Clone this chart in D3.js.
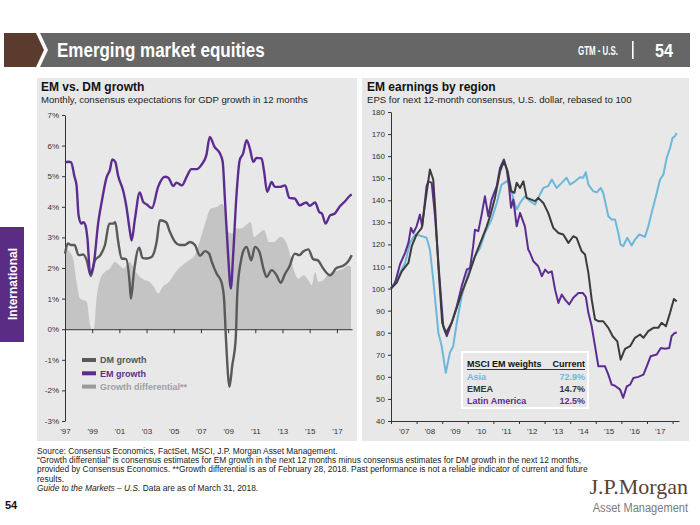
<!DOCTYPE html>
<html><head><meta charset="utf-8">
<script src="https://cdn.jsdelivr.net/npm/d3@7"></script>
<style>body{margin:0;background:#fff;} svg{display:block;font-family:Arial,"Liberation Sans",sans-serif;}</style>
</head><body><svg id="c" width="700" height="525"></svg>
<script>
// ---------- DATA ----------
const leftYTicks = [-3,-2,-1,0,1,2,3,4,5,6,7];
const leftXYears = [1997,1999,2001,2003,2005,2007,2009,2011,2013,2015,2017];
const leftXLabels = ["'97","'99","'01","'03","'05","'07","'09","'11","'13","'15","'17"];
const rightYTicks = [40,50,60,70,80,90,100,110,120,130,140,150,160,170,180];
const rightXYears = [2007,2008,2009,2010,2011,2012,2013,2014,2015,2016,2017];
const rightXLabels = ["'07","'08","'09","'10","'11","'12","'13","'14","'15","'16","'17"];

const emGrowth = [[1997.0,5.45],[1997.25,5.47],[1997.45,5.45],[1997.7,4.98],[1997.85,4.7],[1998.0,3.72],[1998.2,3.45],[1998.35,3.5],[1998.5,3.4],[1998.65,2.97],[1998.85,1.82],[1999.1,2.09],[1999.45,3.5],[1999.7,4.16],[2000.07,4.98],[2000.3,5.2],[2000.48,5.55],[2000.7,5.47],[2000.9,5.03],[2001.3,4.49],[2001.5,4.05],[2001.8,3.13],[2001.9,2.9],[2002.15,3.62],[2002.5,4.47],[2002.75,4.16],[2003.0,4.08],[2003.4,3.96],[2003.85,4.65],[2004.35,4.98],[2004.6,4.95],[2004.96,4.68],[2005.2,4.79],[2005.6,4.7],[2005.95,4.98],[2006.3,5.23],[2006.7,5.23],[2007.05,5.38],[2007.4,5.69],[2007.65,6.28],[2008.0,5.96],[2008.4,5.74],[2008.6,5.47],[2008.76,4.28],[2009.0,2.42],[2009.2,1.33],[2009.37,2.42],[2009.6,4.27],[2009.85,5.52],[2010.1,5.74],[2010.36,6.18],[2010.6,5.9],[2010.85,5.47],[2011.1,5.6],[2011.46,5.58],[2011.65,5.14],[2011.87,4.49],[2012.2,4.81],[2012.44,4.65],[2012.8,4.65],[2013.2,4.7],[2013.5,4.29],[2013.9,4.27],[2014.26,4.05],[2014.75,4.14],[2015.0,4.03],[2015.4,4.14],[2015.7,3.83],[2015.9,3.78],[2016.17,3.45],[2016.5,3.72],[2016.85,3.78],[2017.2,4.0],[2017.6,4.18],[2018.0,4.38],[2018.1,4.4]];

const dmGrowth = [[1997.0,2.47],[1997.2,2.8],[1997.45,2.75],[1997.7,2.75],[1998.0,2.42],[1998.35,2.44],[1998.6,2.25],[1998.9,1.74],[1999.2,2.25],[1999.6,2.42],[1999.94,2.75],[2000.26,3.45],[2000.55,3.45],[2000.7,3.5],[2000.9,2.9],[2001.17,2.31],[2001.5,2.29],[2001.75,1.55],[2001.85,1.0],[2002.07,1.87],[2002.46,2.66],[2002.7,2.33],[2003.0,2.31],[2003.37,2.36],[2003.74,2.85],[2003.98,3.56],[2004.43,3.5],[2004.72,3.18],[2005.1,2.85],[2005.45,2.75],[2005.8,2.75],[2006.2,2.85],[2006.56,2.75],[2006.93,2.4],[2007.3,2.55],[2007.6,2.47],[2007.8,2.2],[2008.15,1.82],[2008.5,1.55],[2008.7,1.0],[2008.84,-0.3],[2009.1,-1.88],[2009.3,-1.2],[2009.56,-0.3],[2009.68,1.22],[2009.93,2.2],[2010.1,2.53],[2010.36,2.69],[2010.7,2.25],[2010.97,2.69],[2011.3,2.53],[2011.6,1.98],[2011.83,1.71],[2012.2,1.93],[2012.57,1.76],[2012.86,1.52],[2013.2,1.82],[2013.5,2.04],[2013.9,2.47],[2014.26,2.42],[2014.5,2.53],[2014.9,2.61],[2015.26,2.29],[2015.6,2.25],[2016.0,1.98],[2016.5,1.76],[2016.97,2.0],[2017.46,2.07],[2017.84,2.22],[2018.1,2.42]];

const growthDiff = [[1997.0,2.75],[1997.3,2.55],[1997.6,2.3],[1997.85,1.55],[1998.1,1.0],[1998.6,0.9],[1998.85,0.13],[1999.05,-0.05],[1999.15,0.05],[1999.3,0.9],[1999.6,1.65],[1999.94,1.87],[2000.3,1.98],[2000.66,2.2],[2001.0,2.09],[2001.3,1.98],[2001.75,2.2],[2002.2,1.87],[2002.7,1.65],[2003.2,1.55],[2003.55,1.38],[2003.87,1.17],[2004.17,1.38],[2004.66,1.55],[2005.15,1.87],[2005.64,2.09],[2006.13,2.25],[2006.6,2.47],[2006.97,2.96],[2007.34,3.5],[2007.7,3.94],[2008.2,4.0],[2008.55,4.1],[2008.8,3.83],[2009.03,3.18],[2009.3,3.13],[2009.56,3.29],[2009.93,3.29],[2010.3,3.4],[2010.66,3.5],[2010.9,3.02],[2011.27,3.13],[2011.64,3.24],[2012.0,2.85],[2012.37,2.85],[2012.86,3.02],[2013.2,2.9],[2013.57,2.42],[2013.8,1.98],[2014.18,1.65],[2014.54,1.76],[2014.9,1.6],[2015.15,1.44],[2015.4,1.87],[2015.64,1.55],[2016.0,1.6],[2016.4,1.82],[2016.76,1.87],[2017.13,1.93],[2017.5,1.98],[2017.74,2.09],[2018.04,2.04]];

const asiaEps = [[2007.0,100],[2007.29,105.6],[2007.55,111.6],[2007.74,120.7],[2007.94,124.5],[2008.13,124.0],[2008.39,123],[2008.52,117.7],[2008.65,104],[2008.85,80],[2008.98,73.9],[2009.14,61.8],[2009.3,70.9],[2009.43,73.9],[2009.57,84.5],[2009.76,96.5],[2010.02,107.1],[2010.28,114.6],[2010.48,118.4],[2010.67,125.2],[2010.93,131.3],[2011.13,138.8],[2011.32,147.1],[2011.52,148.6],[2011.65,147.9],[2011.78,140.3],[2011.91,135.8],[2012.04,138.8],[2012.23,141.8],[2012.43,139.6],[2012.63,138.1],[2012.75,141.1],[2012.95,145.6],[2013.14,146.4],[2013.28,149.4],[2013.47,145.6],[2013.67,147.9],[2013.86,150.2],[2013.99,147.1],[2014.19,148.6],[2014.38,150.4],[2014.51,150.2],[2014.61,152.7],[2014.71,147.1],[2014.9,144.1],[2015.04,143.6],[2015.19,145.6],[2015.29,143.4],[2015.49,132.8],[2015.62,131.3],[2015.75,131.3],[2015.88,125.2],[2015.97,119.9],[2016.07,119.2],[2016.23,123.0],[2016.4,119.5],[2016.53,122.2],[2016.7,124.5],[2016.92,123.4],[2017.05,128.2],[2017.18,134.3],[2017.35,141.8],[2017.51,149.4],[2017.64,151.6],[2017.77,159.2],[2017.9,163.7],[2018.0,168.3],[2018.09,169],[2018.16,170.5]];

const emeaEps = [[2007.0,100],[2007.22,102.6],[2007.42,107.8],[2007.68,111.6],[2007.81,119.2],[2008.0,124.5],[2008.2,127.5],[2008.39,143.4],[2008.52,153.9],[2008.65,149.4],[2008.72,137.3],[2008.85,110.1],[2009.0,84.5],[2009.15,79.9],[2009.37,84.5],[2009.57,91.3],[2009.76,98],[2010.02,105.6],[2010.28,114.6],[2010.54,122.2],[2010.74,128.2],[2010.87,132.8],[2011.06,141.1],[2011.26,153.1],[2011.41,157.7],[2011.56,153.1],[2011.69,144.1],[2011.82,143.4],[2011.91,147.9],[2012.04,145.6],[2012.17,148.6],[2012.3,141.1],[2012.43,140.5],[2012.63,139.6],[2012.75,141.1],[2012.95,138.8],[2013.14,134.3],[2013.34,127.5],[2013.54,125.2],[2013.73,124.5],[2013.93,120.7],[2014.12,123.7],[2014.25,123],[2014.45,116.9],[2014.58,115.4],[2014.71,107.1],[2014.84,95],[2014.97,86],[2015.1,85.2],[2015.29,85.2],[2015.49,82.2],[2015.66,78.4],[2015.84,76.1],[2015.97,67.8],[2016.14,72.7],[2016.34,73.9],[2016.53,77.7],[2016.73,79.2],[2016.86,77.7],[2017.05,80.7],[2017.25,82.2],[2017.44,82.2],[2017.57,84.5],[2017.74,82.9],[2017.9,89],[2018.05,95.3],[2018.16,94.2]];

const latamEps = [[2007.0,100],[2007.16,102.6],[2007.35,110.9],[2007.55,116.2],[2007.68,120.7],[2007.78,127.5],[2007.87,125.2],[2008.0,128.2],[2008.13,133.5],[2008.22,128.2],[2008.39,146.4],[2008.46,148.6],[2008.59,147.9],[2008.72,132.8],[2008.88,107.1],[2009.04,82.9],[2009.18,78.4],[2009.37,84.5],[2009.57,92],[2009.76,101],[2009.96,108.6],[2010.09,109.4],[2010.21,119.2],[2010.28,126.7],[2010.41,126],[2010.54,133.5],[2010.67,141.8],[2010.8,132.8],[2010.93,140.3],[2011.13,146.4],[2011.26,154.7],[2011.41,158.5],[2011.52,153.9],[2011.61,146.4],[2011.69,136.6],[2011.78,140.3],[2011.91,128.2],[2012.04,134.3],[2012.23,128.2],[2012.36,117.7],[2012.43,116.2],[2012.56,112.4],[2012.63,111.6],[2012.75,110.1],[2012.89,105.6],[2013.02,108.6],[2013.14,107.1],[2013.28,107.8],[2013.41,99.5],[2013.54,93.5],[2013.67,97.3],[2013.8,95],[2013.96,92.8],[2014.12,95.8],[2014.32,98],[2014.49,98],[2014.61,96.2],[2014.71,89],[2014.84,82.9],[2014.97,73.9],[2015.1,64.8],[2015.23,64.8],[2015.36,64.8],[2015.49,61],[2015.62,56.5],[2015.75,56],[2015.95,54.2],[2016.07,50.5],[2016.21,55.7],[2016.34,56.5],[2016.47,59.5],[2016.66,60],[2016.86,61],[2016.99,64.8],[2017.14,69.3],[2017.38,70.1],[2017.54,73.1],[2017.7,72.7],[2017.87,73.1],[2017.96,78.4],[2018.05,79.6],[2018.16,80.2]];

const weightRegions = ["Asia","EMEA","Latin America"];
const weightValues = ["72.9%","14.7%","12.5%"];
const legendLabels = ["DM growth","EM growth","Growth differential**"];

// ---------- STYLE ----------
const C = {panel:"#e8e8e8", header:"#666666", brown:"#5b3b2d", purple:"#5c2d91", dm:"#595959",
  area:"#c4c4c4", asia:"#6db7d9", emea:"#3b3b3b", text:"#333", tab:"#5b2c84"};

const svg = d3.select("#c");

// ---------- HEADER ----------
svg.append("polygon").attr("points","4,33 36,33 44,50 36,67 4,67").attr("fill",C.brown);
svg.append("polygon").attr("points","40,33 690,33 690,67 40,67 48,50").attr("fill",C.header);
svg.append("text").attr("transform","translate(57,57) scale(0.85,1)").attr("fill","#fff")
  .style("font-size","20px").style("font-weight","bold")
  .text("Emerging market equities");
svg.append("text").attr("transform","translate(618,55) scale(0.66,1)").attr("fill","#fff").attr("text-anchor","end")
  .style("font-size","12px").style("font-weight","bold")
  .text("GTM - U.S.");
svg.append("rect").attr("x",632).attr("y",41).attr("width",1.6).attr("height",18).attr("fill","#fff");
svg.append("text").attr("transform","translate(655,57) scale(0.85,1)").attr("fill","#fff")
  .style("font-size","19px").style("font-weight","bold")
  .text("54");

// ---------- SIDE TAB ----------
svg.append("rect").attr("x",0).attr("y",227).attr("width",24).attr("height",115).attr("fill",C.tab);
svg.append("text").attr("transform","translate(16.5,284) rotate(-90)").attr("text-anchor","middle")
  .attr("fill","#fff").style("font-size","12px").style("font-weight","bold").text("International");

// ---------- PANELS ----------
svg.append("rect").attr("x",37).attr("y",78).attr("width",320).attr("height",363).attr("fill",C.panel);
svg.append("rect").attr("x",362).attr("y",78).attr("width",327).attr("height",363).attr("fill",C.panel);

function titles(x, t, s){
  svg.append("text").attr("x",x).attr("y",91).attr("fill","#111").style("font-size","12px").style("font-weight","bold").text(t);
  svg.append("text").attr("x",x).attr("y",102.5).attr("fill","#222").style("font-size","9.6px").text(s);
}
titles(41,"EM vs. DM growth","Monthly, consensus expectations for GDP growth in 12 months");
titles(367,"EM earnings by region","EPS for next 12-month consensus, U.S. dollar, rebased to 100");

// ---------- LEFT CHART ----------
const xL = d3.scaleLinear().domain([1997,2018.15]).range([65,352.5]);
const yL = d3.scaleLinear().domain([-3,7]).range([421,115]);

const gL = svg.append("g");
gL.append("path").datum(growthDiff).attr("fill",C.area)
  .attr("d", d3.area().x(d=>xL(d[0])).y0(yL(0)).y1(d=>yL(d[1])).curve(d3.curveMonotoneX));

function styleAxis(g){
  g.selectAll("path.domain").attr("stroke","#333").attr("stroke-width",1);
  g.selectAll(".tick line").attr("stroke","#333");
  g.selectAll("text").attr("fill",C.text).style("font-size","8px").style("font-family","Arial,'Liberation Sans',sans-serif");
}
const axYL = gL.append("g").attr("transform","translate(65,0)")
  .call(d3.axisLeft(yL).tickValues(leftYTicks).tickFormat(d=>d+"%").tickSize(3).tickSizeOuter(0).tickPadding(3));
styleAxis(axYL);
const axXL = gL.append("g").attr("transform",`translate(0,${yL(0)})`)
  .call(d3.axisBottom(xL).tickValues(leftXYears).tickFormat("").tickSize(4).tickSizeOuter(0));
styleAxis(axXL);
axXL.select("path.domain").attr("d",`M${xL(1997)},0.5H${xL(2018.15)}`);
const axXL2 = gL.append("g").attr("transform","translate(0,428)")
  .call(d3.axisBottom(xL).tickValues(leftXYears).tickFormat((d,i)=>leftXLabels[i]).tickSize(0).tickPadding(0));
axXL2.select("path.domain").remove();
styleAxis(axXL2);

const lineL = d3.line().x(d=>xL(d[0])).y(d=>yL(d[1])).curve(d3.curveMonotoneX);
gL.append("path").datum(dmGrowth).attr("fill","none").attr("stroke",C.dm).attr("stroke-width",2.4).attr("stroke-linejoin","round").attr("d",lineL);
gL.append("path").datum(emGrowth).attr("fill","none").attr("stroke",C.purple).attr("stroke-width",2.4).attr("stroke-linejoin","round").attr("d",lineL);

// legend
const legColors = [C.dm, C.purple, "#9a9a9a"];
const legText = ["#555", C.purple, "#a0a0a0"];
legendLabels.forEach((t,i)=>{
  const y = 360 + i*13.3;
  gL.append("rect").attr("x",82).attr("y",y-2).attr("width",14).attr("height",4).attr("fill",legColors[i]);
  gL.append("text").attr("x",100).attr("y",y+3.2).attr("fill",legText[i]).style("font-size","9px").style("font-weight","bold").text(t);
});

// ---------- RIGHT CHART ----------
const xR = d3.scaleLinear().domain([2007,2018.25]).range([391,679]);
const yR = d3.scaleLinear().domain([40,180]).range([421,112]);
const gR = svg.append("g");

const axYR = gR.append("g").attr("transform","translate(391,0)")
  .call(d3.axisLeft(yR).tickValues(rightYTicks).tickSize(3).tickSizeOuter(0).tickPadding(3));
styleAxis(axYR);
const axXR = gR.append("g").attr("transform","translate(0,421)")
  .call(d3.axisBottom(xR).tickValues(rightXYears.concat([2018])).tickFormat("").tickSize(3).tickSizeOuter(0));
styleAxis(axXR);
const axXR2 = gR.append("g").attr("transform","translate(0,428)")
  .call(d3.axisBottom(xR).tickValues(rightXYears.map(y=>y+0.5)).tickFormat((d,i)=>rightXLabels[i]).tickSize(0).tickPadding(0));
axXR2.select("path.domain").remove();
styleAxis(axXR2);

const lineR = d3.line().x(d=>xR(d[0])).y(d=>yR(d[1]));
[[asiaEps,C.asia],[latamEps,C.purple],[emeaEps,C.emea]].forEach(([d,c])=>{
  gR.append("path").datum(d).attr("fill","none").attr("stroke",c).attr("stroke-width",2).attr("stroke-linejoin","round").attr("d",lineR);
});

// weights table
const tb = gR.append("g");
tb.append("rect").attr("x",462).attr("y",352).attr("width",126).attr("height",56)
  .attr("fill",C.panel).attr("stroke","#fff").attr("stroke-width",2);
tb.append("text").attr("x",467).attr("y",367).attr("fill","#111").style("font-size","9px").style("font-weight","bold").text("MSCI EM weights");
tb.append("text").attr("x",585).attr("y",367).attr("text-anchor","end").attr("fill","#111").style("font-size","9px").style("font-weight","bold").text("Current");
tb.append("line").attr("x1",467).attr("x2",585).attr("y1",369.5).attr("y2",369.5).attr("stroke","#333").attr("stroke-width",1);
const rowCol = [C.asia, "#333", C.purple];
weightRegions.forEach((r,i)=>{
  const y = 379.5 + i*12.4;
  tb.append("text").attr("x",467).attr("y",y).attr("fill",rowCol[i]).style("font-size","9px").style("font-weight","bold").text(r);
  tb.append("text").attr("x",585).attr("y",y).attr("text-anchor","end").attr("fill",rowCol[i]).style("font-size","9px").style("font-weight","bold").text(weightValues[i]);
});

// ---------- FOOTNOTES ----------
const notes = [
  "Source: Consensus Economics, FactSet, MSCI, J.P. Morgan Asset Management.",
  "\u201CGrowth differential\u201D is consensus estimates for EM growth in the next 12 months minus consensus estimates for DM growth in the next 12 months,",
  "provided by Consensus Economics. **Growth differential is as of February 28, 2018. Past performance is not a reliable indicator of current and future",
  "results."
];
notes.forEach((t,i)=>{
  svg.append("text").attr("x",37).attr("y",454+i*9.2).attr("fill","#222").style("font-size","8.4px").text(t);
});
const g5 = svg.append("text").attr("x",37).attr("y",454+4*9.2).attr("fill","#222").style("font-size","8.4px");
g5.append("tspan").style("font-style","italic").text("Guide to the Markets \u2013 U.S.");
g5.append("tspan").text(" Data are as of March 31, 2018.");

svg.append("text").attr("x",5).attr("y",509).attr("fill","#111").style("font-size","11px").style("font-weight","bold").text("54");

// ---------- LOGO ----------
svg.append("text").attr("x",688).attr("y",494).attr("text-anchor","end").attr("fill","#5a4132")
  .style("font-family","'Liberation Serif','Times New Roman',serif").style("font-size","22px").text("J.P.Morgan");
svg.append("text").attr("transform","translate(688,512) scale(0.82,1)").attr("text-anchor","end").attr("fill","#7a7a7a")
  .style("font-size","13.5px").text("Asset Management");
</script></body></html>
